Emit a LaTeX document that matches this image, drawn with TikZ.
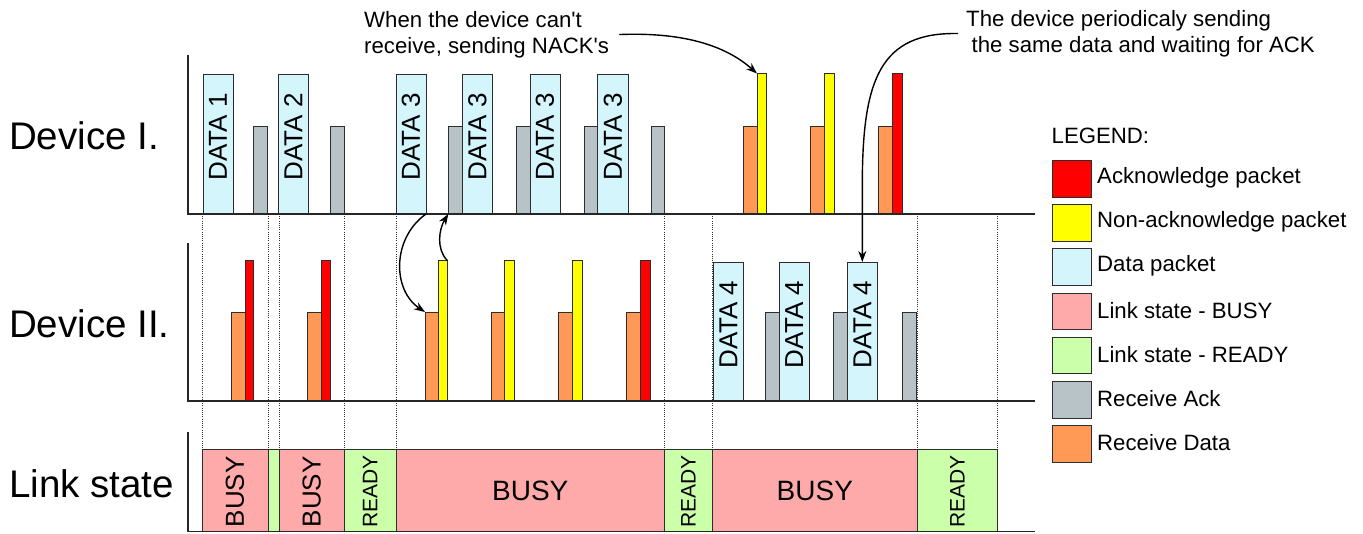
\documentclass[tikz,border=0pt]{standalone}
\usepackage{fontspec}
\setmainfont{Liberation Sans}
\usetikzlibrary{arrows.meta}

\definecolor{edgec}{RGB}{45,45,45}
\definecolor{cdata}{RGB}{213,245,253}
\definecolor{cack}{RGB}{183,195,199}
\definecolor{crecv}{RGB}{255,153,85}
\definecolor{cbusy}{RGB}{255,170,170}
\definecolor{cready}{RGB}{204,255,170}
\definecolor{cnack}{RGB}{255,255,0}
\definecolor{cackpkt}{RGB}{255,0,0}

% a bar: name, style, left x, right x, top y, bottom y
\newcommand\pkt[6]{\node[#2, minimum width={#4-#3}, minimum height={#6-#5}] (#1) at (#3,#6) {};}

\tikzset{
  box/.style={draw=edgec, line width=0.9pt, rectangle, inner sep=0pt, outer sep=0pt, anchor=south west},
  databar/.style={box, fill=cdata},
  ackbar/.style={box, fill=cack},
  recvbar/.style={box, fill=crecv},
  nackbar/.style={box, fill=cnack},
  okbar/.style={box, fill=cackpkt},
  busybox/.style={box, fill=cbusy},
  readybox/.style={box, fill=cready},
  dtext/.style={rotate=90, inner sep=0pt, font=\fontsize{26}{26}\selectfont},
  bigtext/.style={inner sep=0pt, font=\fontsize{28}{28}\selectfont},
  rdytext/.style={rotate=90, inner sep=0pt, font=\fontsize{21}{21}\selectfont},
  rowtitle/.style={anchor=west, inner sep=0pt, font=\fontsize{38.5}{38.5}\selectfont},
  note/.style={anchor=north west, align=left, inner sep=0pt, font=\fontsize{22.2}{26}\selectfont},
  legtext/.style={anchor=west, inner sep=0pt, font=\fontsize{22.2}{22.2}\selectfont},
  swatch/.style={draw=edgec, line width=0.9pt, rectangle, inner sep=0pt, anchor=north west, minimum width=38.4pt, minimum height=36.5pt},
  axis/.style={draw=black!85, line width=1.8pt},
  guide/.style={draw=black!80, line width=0.9pt, dash pattern=on 1pt off 1.2pt},
  arr/.style={draw=black, line width=1.4pt, -{Stealth[length=11pt,width=8pt]}},
}

\begin{document}
\begin{tikzpicture}[x=1pt, y=-1pt]
\useasboundingbox (0,0) rectangle (1363,533);

% time-slot guides
\foreach \gx in {202,268,279,344.3,396,664.5,712.3,917.3,997.3}
  \draw[guide] (\gx,214) -- (\gx,449);

% ---------------- Device I ----------------
\foreach \n/\a/\b/\t in {1/203/233/1, 2/278.3/308.3/2, 3/396/426/3, 4/462.3/492.3/3, 5/530/560/3, 6/597.7/628/3}{
  \pkt{da\n}{databar}{\a}{\b}{74}{214}
  \node[dtext] (dta\n) at ([yshift=7pt]da\n.center) {DATA \t};
}
\foreach \n/\a/\b in {1/253.7/267.5, 2/330.7/344.3, 3/448.3/462.3, 4/516/530, 5/584/597.7, 6/651.3/664.7}{
  \pkt{ga\n}{ackbar}{\a}{\b}{126}{214}
}
\foreach \n/\a/\b in {1/743/757, 2/810.7/824.3, 3/878.3/892.3}{
  \pkt{oa\n}{recvbar}{\a}{\b}{126}{214}
}
\pkt{ya1}{nackbar}{757}{766.7}{73.5}{214}
\pkt{ya2}{nackbar}{824.3}{834.3}{73.5}{214}
\pkt{ra1}{okbar}{892.3}{902.3}{73.5}{214}

% ---------------- Device II ----------------
\foreach \n/\a/\b in {1/231/245, 2/307.7/321.7, 3/425/438.7, 4/491/504.3, 5/558.7/572.3, 6/626/640}{
  \pkt{ob\n}{recvbar}{\a}{\b}{312}{401}
}
\pkt{rb1}{okbar}{245}{253.3}{260.5}{401}
\pkt{rb2}{okbar}{321.7}{330.7}{260.5}{401}
\pkt{yb1}{nackbar}{438.7}{447.3}{260.5}{401}
\pkt{yb2}{nackbar}{504.3}{514.3}{260.5}{401}
\pkt{yb3}{nackbar}{572.3}{582.3}{260.5}{401}
\pkt{rb3}{okbar}{640}{650}{260.5}{401}
\foreach \n/\a/\b in {1/713.3/743.3, 2/779/809.3, 3/847.3/877.3}{
  \pkt{db\n}{databar}{\a}{\b}{262}{401}
  \node[dtext] (dtb\n) at ([yshift=7pt]db\n.center) {DATA 4};
}
\foreach \n/\a/\b in {1/765.3/779, 2/833.3/847.3, 3/902.7/916.7}{
  \pkt{gb\n}{ackbar}{\a}{\b}{312.3}{401}
}

% ---------------- Link state ----------------
\pkt{l1}{busybox}{202}{268}{449}{531.5}
\pkt{l2}{readybox}{268}{279}{449}{531.5}
\pkt{l3}{busybox}{279}{344.3}{449}{531.5}
\pkt{l4}{readybox}{344.3}{396}{449}{531.5}
\pkt{l5}{busybox}{396}{664.5}{449}{531.5}
\pkt{l6}{readybox}{664.5}{712.3}{449}{531.5}
\pkt{l7}{busybox}{712.3}{917.3}{449}{531.5}
\pkt{l8}{readybox}{917.3}{997.3}{449}{531.5}
\node[dtext] (lt1) at ([yshift=-1.5pt]l1.center) {BUSY};
\node[dtext] (lt3) at ([yshift=-1.5pt]l3.center) {BUSY};
\node[rdytext] (lt4) at ([yshift=-1.5pt]l4.center) {READY};
\node[bigtext] (lt5) at ([yshift=-1pt]l5.center) {BUSY};
\node[rdytext] (lt6) at ([yshift=-1.5pt]l6.center) {READY};
\node[bigtext] (lt7) at ([yshift=-1pt]l7.center) {BUSY};
\node[rdytext] (lt8) at ([yshift=-1.5pt]l8.center) {READY};

% axes
\draw[axis] (188,55) -- (188,214) -- (1035,214);
\draw[axis] (188,243) -- (188,401) -- (1035,401);
\draw[axis] (188,432) -- (188,531.5) -- (1035,531.5);

% row titles
\node[rowtitle] (rowa) at (9,136) {Device I.};
\node[rowtitle] (rowb) at (9,323.5) {Device II.};
\node[rowtitle] (rowc) at (9,484) {Link state};

% notes
\node[note] (nack) at (364,11) {When the device can\textquotesingle t\\receive, sending NACK\textquotesingle s};
\node[note] (repeat) at (966,10) {The device periodicaly sending\\\hspace{5.5pt}the same data and waiting for ACK};

% connectors
\draw[arr] ([xshift=10pt]nack.east) .. controls (682,32) and (725,45) .. (ya1.north west);
\draw[arr] ([xshift=-8pt]repeat.west) .. controls (880,32) and (863,80) .. (862.3,180) -- (db3.north);
\draw[arr] (da3.south east) .. controls (392,238) and (392,290) .. (ob3.north west);
\draw[arr] (yb1.north east) .. controls (436,249) and (439,229) .. (ga3.south west);

% legend
\node[legtext] (legh) at (1051.5,136) {LEGEND:};
\foreach \n/\c/\t [count=\i from 0] in {k/cackpkt/Acknowledge packet, n/cnack/Non-acknowledge packet, d/cdata/Data packet, b/cbusy/Link state - BUSY, r/cready/Link state - READY, a/cack/Receive Ack, o/crecv/Receive Data}{
  \node[swatch, fill=\c] (sw\n) at (1052.3,160+44.2*\i) {};
  \node[legtext] (lg\n) at (1097,177.5+44.2*\i) {\t};
}
\end{tikzpicture}
\end{document}
